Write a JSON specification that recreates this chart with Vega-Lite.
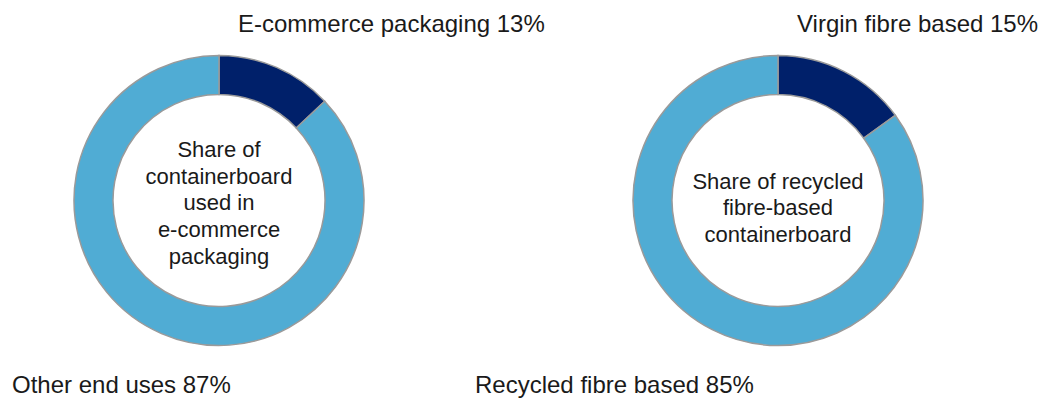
{
  "$schema": "https://vega.github.io/schema/vega-lite/v6.json",
  "width": 1055,
  "height": 401,
  "padding": 0,
  "autosize": {"type": "none"},
  "background": "white",
  "view": {"stroke": null},
  "config": {"font": "Liberation Sans"},
  "datasets": {
    "segments": [
      {"chart": "ecommerce", "segment": "E-commerce packaging", "label": "E-commerce packaging 13%", "group": "primary", "value": 13, "place": "top"},
      {"chart": "ecommerce", "segment": "Other end uses", "label": "Other end uses 87%", "group": "other", "value": 87, "place": "bottom"},
      {"chart": "recycled", "segment": "Virgin fibre based", "label": "Virgin fibre based 15%", "group": "primary", "value": 15, "place": "top"},
      {"chart": "recycled", "segment": "Recycled fibre based", "label": "Recycled fibre based 85%", "group": "other", "value": 85, "place": "bottom"}
    ],
    "charts": [
      {"chart": "ecommerce", "center": "Share of\ncontainerboard\nused in\ne-commerce\npackaging"},
      {"chart": "recycled", "center": "Share of recycled\nfibre-based\ncontainerboard"}
    ]
  },
  "layer": [
    {
      "data": {"name": "segments"},
      "transform": [
        {"stack": "value", "groupby": ["chart"], "sort": [{"field": "value", "order": "ascending"}], "as": ["v0", "v1"]}
      ],
      "mark": {"type": "arc", "innerRadius": 106, "outerRadius": 145, "stroke": "#9a9a9a", "strokeWidth": 1.5},
      "encoding": {
        "x": {"field": "chart", "type": "nominal", "scale": {"type": "point", "domain": ["ecommerce", "recycled"], "range": [219, 778], "padding": 0}, "axis": null},
        "theta": {"field": "v0", "type": "quantitative", "scale": {"domain": [0, 100]}},
        "theta2": {"field": "v1"},
        "color": {"field": "group", "type": "nominal", "scale": {"domain": ["primary", "other"], "range": ["#00206A", "#50ACD4"]}, "legend": null}
      }
    },
    {
      "data": {"name": "charts"},
      "transform": [{"filter": "datum.chart == 'ecommerce'"}],
      "mark": {"type": "text", "align": "center", "baseline": "middle", "lineBreak": "\n", "lineHeight": 26.7, "fontSize": 22, "color": "#1a1a1a", "dy": -50.5},
      "encoding": {
        "x": {"field": "chart", "type": "nominal"},
        "text": {"field": "center", "type": "nominal"}
      }
    },
    {
      "data": {"name": "charts"},
      "transform": [{"filter": "datum.chart == 'recycled'"}],
      "mark": {"type": "text", "align": "center", "baseline": "middle", "lineBreak": "\n", "lineHeight": 26.7, "fontSize": 22, "color": "#1a1a1a", "dy": -19},
      "encoding": {
        "x": {"field": "chart", "type": "nominal"},
        "text": {"field": "center", "type": "nominal"}
      }
    },
    {
      "data": {"name": "segments"},
      "transform": [{"filter": "datum.place == 'top'"}],
      "mark": {"type": "text", "align": "left", "baseline": "alphabetic", "fontSize": 24, "color": "#1a1a1a", "dx": 19},
      "encoding": {
        "x": {"field": "chart", "type": "nominal"},
        "y": {"field": "place", "type": "nominal", "scale": {"type": "point", "domain": ["top", "bottom"], "range": [32, 393], "padding": 0}, "axis": null},
        "text": {"field": "label", "type": "nominal"}
      }
    },
    {
      "data": {"name": "segments"},
      "transform": [{"filter": "datum.place == 'bottom' && datum.chart == 'ecommerce'"}],
      "mark": {"type": "text", "align": "left", "baseline": "alphabetic", "fontSize": 24, "color": "#1a1a1a", "dx": -207},
      "encoding": {
        "x": {"field": "chart", "type": "nominal"},
        "y": {"field": "place", "type": "nominal"},
        "text": {"field": "label", "type": "nominal"}
      }
    },
    {
      "data": {"name": "segments"},
      "transform": [{"filter": "datum.place == 'bottom' && datum.chart == 'recycled'"}],
      "mark": {"type": "text", "align": "left", "baseline": "alphabetic", "fontSize": 24, "color": "#1a1a1a", "dx": -303},
      "encoding": {
        "x": {"field": "chart", "type": "nominal"},
        "y": {"field": "place", "type": "nominal"},
        "text": {"field": "label", "type": "nominal"}
      }
    }
  ]
}
